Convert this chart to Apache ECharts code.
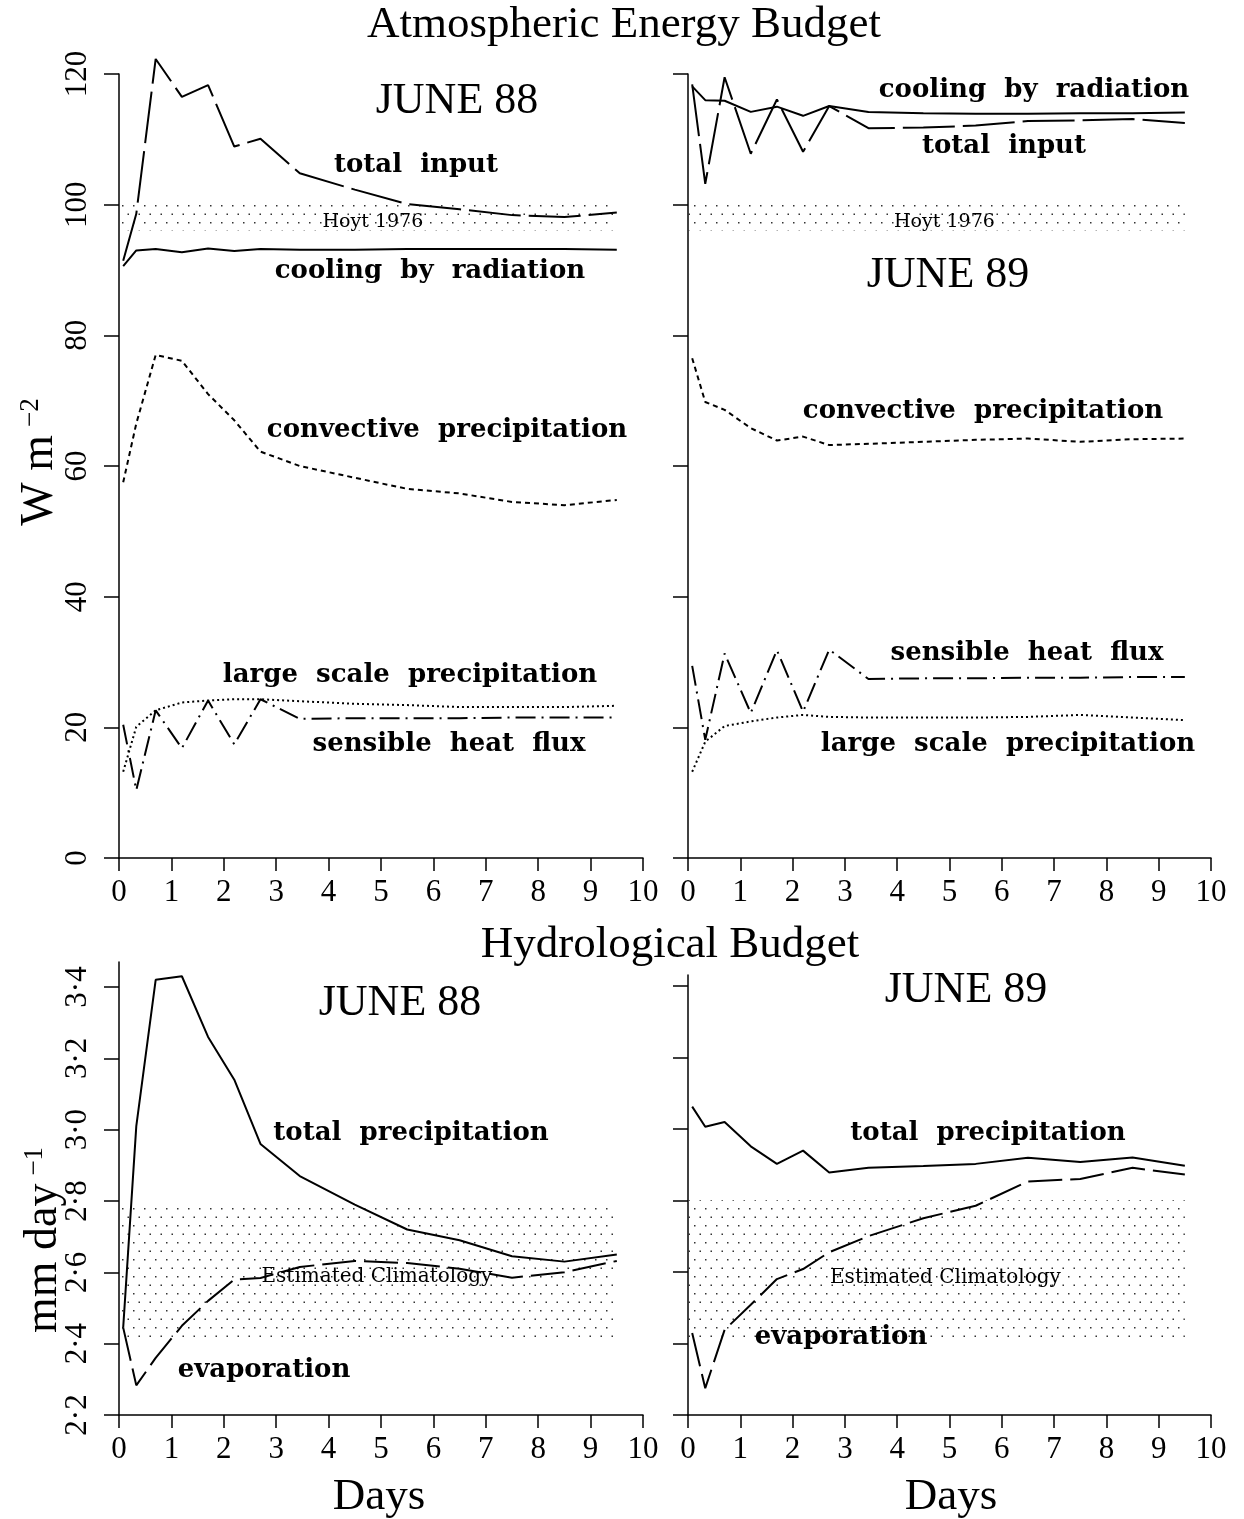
<!DOCTYPE html>
<html>
<head>
<meta charset="utf-8">
<title>Atmospheric Energy Budget / Hydrological Budget</title>
<script src="https://cdn.jsdelivr.net/npm/echarts@6/dist/echarts.min.js"></script>
<style>
  html, body { margin: 0; padding: 0; background: #fff; }
  #chart { width: 1244px; height: 1519px; }
</style>
</head>
<body>
<div id="chart"></div>
<script>
// ---- data -------------------------------------------------------------
// forecast times (days) at which the budgets were averaged
const days = [0.08, 0.33, 0.7, 1.2, 1.7, 2.2, 2.7, 3.45, 4.5, 5.5, 6.5, 7.5, 8.5, 9.5];

// tick labels
const dayTicks = [0, 1, 2, 3, 4, 5, 6, 7, 8, 9, 10];
const energyTicks = [0, 20, 40, 60, 80, 100, 120];
const hydroTicks = [2.2, 2.4, 2.6, 2.8, 3.0, 3.2, 3.4];

// reference bands: [low, high] and their extent in days
const hoytBand = [96, 100.4];
const climatologyBand = [2.4, 2.8];
const bandDays = [0, 9.5];

// atmospheric energy budget, June 1988 (W m-2)
const totalInput88  = [91.4, 98.6, 122.3, 116.5, 118.3, 108.9, 110.1, 104.8, 102.3, 100.1, 99.3, 98.4, 98.1, 98.8];
const coolingRad88  = [90.6, 93.0, 93.2, 92.7, 93.3, 92.9, 93.2, 93.1, 93.1, 93.2, 93.2, 93.2, 93.2, 93.1];
const convective88  = [57.5, 66.5, 77.0, 76.1, 71.0, 67.0, 62.2, 60.0, 58.2, 56.5, 55.8, 54.5, 54.0, 54.8];
const largeScale88  = [13.2, 20.1, 22.6, 23.8, 24.1, 24.3, 24.3, 24.0, 23.6, 23.4, 23.1, 23.1, 23.1, 23.3];
const sensible88    = [20.4, 10.4, 22.6, 16.8, 24.1, 17.4, 24.3, 21.3, 21.4, 21.4, 21.4, 21.5, 21.5, 21.5];

// atmospheric energy budget, June 1989 (W m-2)
const totalInput89  = [118.4, 103.2, 119.5, 107.8, 116.1, 108.1, 115.1, 111.7, 111.8, 112.1, 112.8, 112.9, 113.1, 112.5];
const coolingRad89  = [118.1, 116.0, 115.9, 114.2, 115.0, 113.6, 115.1, 114.2, 114.0, 113.9, 113.9, 114.0, 114.0, 114.1];
const convective89  = [76.5, 69.8, 68.6, 65.8, 63.9, 64.5, 63.2, 63.4, 63.7, 64.0, 64.2, 63.7, 64.1, 64.2];
const largeScale89  = [13.2, 17.8, 20.2, 20.9, 21.5, 21.9, 21.6, 21.5, 21.5, 21.5, 21.6, 21.9, 21.5, 21.1];
const sensible89    = [29.4, 18.1, 31.3, 22.2, 31.8, 22.4, 31.9, 27.4, 27.5, 27.5, 27.6, 27.6, 27.7, 27.7];

// hydrological budget (mm day-1)
const totalPrecip88 = [2.445, 3.01, 3.42, 3.43, 3.26, 3.14, 2.96, 2.87, 2.79, 2.72, 2.69, 2.645, 2.63, 2.65];
const evaporation88 = [2.445, 2.283, 2.36, 2.45, 2.52, 2.58, 2.584, 2.615, 2.632, 2.626, 2.61, 2.585, 2.6, 2.632];
const totalPrecip89 = [3.062, 3.006, 3.019, 2.951, 2.902, 2.939, 2.878, 2.891, 2.896, 2.902, 2.919, 2.907, 2.92, 2.897];
const evaporation89 = [2.429, 2.275, 2.438, 2.508, 2.58, 2.608, 2.655, 2.70, 2.75, 2.785, 2.853, 2.86, 2.891, 2.872];

// ---- styling ----------------------------------------------------------
const SERIF = "'Liberation Serif', 'Times New Roman', serif";
const WIDE_SERIF = "'DejaVu Serif', serif";
const INK = '#000';

// stippled fill used for the reference bands
function stipple() {
  const c = document.createElement('canvas');
  c.width = 11; c.height = 17;
  const g = c.getContext('2d');
  g.fillStyle = '#333';
  g.fillRect(1, 1, 1.5, 1.5);
  g.fillRect(6.5, 9.5, 1.5, 1.5);
  return c;
}
const bandFill = { image: stipple(), repeat: 'repeat' };

const dash = {
  solid: 'solid',
  longDash: [52, 8],
  evapDash: [34, 8],
  shortDash: [5, 4],
  dotted: [2, 3],
  dashDot: [20, 6, 2, 6]
};

const grids = [
  { left: 119, top: 74,  width: 524, height: 784 },   // energy, 1988
  { left: 688, top: 74,  width: 523, height: 784 },   // energy, 1989
  { left: 119, top: 962, width: 524, height: 453 },   // hydrology, 1988
  { left: 688, top: 975, width: 523, height: 440 }    // hydrology, 1989
];

function xAxisFor(i) {
  return {
    type: 'value', gridIndex: i, min: 0, max: 10, interval: 1,
    axisLine: { onZero: false, lineStyle: { color: INK, width: 1.5 } },
    axisTick: { length: 13, customValues: dayTicks, lineStyle: { color: INK, width: 1.5 } },
    axisLabel: {
      customValues: dayTicks, color: INK, fontFamily: SERIF, fontSize: 31, margin: 19,
      formatter: v => String(v)
    },
    splitLine: { show: false }
  };
}

function yAxisFor(i, min, max, interval, ticks, showLabels, fmt) {
  return {
    type: 'value', gridIndex: i, min, max, interval,
    axisLine: { show: true, lineStyle: { color: INK, width: 1.5 } },
    axisTick: { show: true, length: 15, customValues: ticks, lineStyle: { color: INK, width: 1.5 } },
    axisLabel: {
      show: showLabels, customValues: ticks, rotate: 90, color: INK,
      fontFamily: SERIF, fontSize: 31, margin: 26, formatter: fmt
    },
    splitLine: { show: false }
  };
}

const energyFmt = v => String(v);
const hydroFmt = v => v.toFixed(1).replace('.', '\u00b7');

function line(gridIdx, values, type, extra) {
  return Object.assign({
    type: 'line',
    xAxisIndex: gridIdx, yAxisIndex: gridIdx,
    data: days.map((d, k) => [d, values[k]]),
    symbol: 'none',
    clip: false,
    silent: true,
    lineStyle: { color: INK, width: 2, type: type, cap: 'butt' },
    z: 3
  }, extra || {});
}

function band(range, text, fontSize, offset) {
  return {
    silent: true,
    itemStyle: { color: bandFill },
    label: {
      show: true, position: 'inside', color: INK,
      fontFamily: WIDE_SERIF, fontSize: fontSize, offset: offset,
      formatter: text
    },
    data: [[{ xAxis: bandDays[0], yAxis: range[0] }, { xAxis: bandDays[1], yAxis: range[1] }]]
  };
}

// text annotations: [text, centre x, centre y, style]
const curveFont = { font: "bold 26px 'DejaVu Serif', serif" };
const juneFont = { font: "44px 'Liberation Serif', serif" };
const titleFont = { font: "45px 'Liberation Serif', serif" };
const notes = [
  ['Atmospheric Energy Budget', 624, 25, titleFont],
  ['Hydrological Budget', 670, 945, titleFont],
  ['Days', 379, 1497, titleFont],
  ['Days', 951, 1497, titleFont],

  ['JUNE 88', 457, 101, juneFont],
  ['total  input', 416, 165, curveFont],
  ['cooling  by  radiation', 430, 271, curveFont],
  ['convective  precipitation', 447, 430, curveFont],
  ['large  scale  precipitation', 410, 675, curveFont],
  ['sensible  heat  flux', 449, 744, curveFont],

  ['cooling  by  radiation', 1034, 90, curveFont],
  ['total  input', 1004, 146, curveFont],
  ['JUNE 89', 948, 275, juneFont],
  ['convective  precipitation', 983, 411, curveFont],
  ['sensible  heat  flux', 1027, 653, curveFont],
  ['large  scale  precipitation', 1008, 744, curveFont],

  ['JUNE 88', 400, 1003, juneFont],
  ['total  precipitation', 411, 1133, curveFont],
  ['evaporation', 264, 1370, curveFont],

  ['JUNE 89', 966, 990, juneFont],
  ['total  precipitation', 988, 1133, curveFont],
  ['evaporation', 841, 1337, curveFont]
];

const graphics = notes.map(([text, x, y, st]) => ({
  type: 'text', silent: true, z: 10,
  style: Object.assign({ text, x, y, fill: INK, align: 'center', verticalAlign: 'middle' }, st)
}));

// rotated axis titles with superscript exponents
const unitRich = {
  m: { fontFamily: SERIF, fontSize: 46, color: INK },
  s: { fontFamily: SERIF, fontSize: 27, color: INK, verticalAlign: 'top', padding: [0, 0, 0, 8] }
};
graphics.push({
  type: 'text', silent: true, x: 40, y: 462, rotation: Math.PI / 2,
  style: { text: '{m|W m}{s|\u22122}', rich: unitRich, align: 'center', verticalAlign: 'middle' }
});
graphics.push({
  type: 'text', silent: true, x: 44, y: 1240, rotation: Math.PI / 2,
  style: { text: '{m|mm day}{s|\u22121}', rich: unitRich, align: 'center', verticalAlign: 'middle' }
});

const option = {
  backgroundColor: '#fff',
  animation: false,
  grid: grids,
  xAxis: [xAxisFor(0), xAxisFor(1), xAxisFor(2), xAxisFor(3)],
  yAxis: [
    yAxisFor(0, 0, 120, 20, energyTicks, true, energyFmt),
    yAxisFor(1, 0, 120, 20, energyTicks, false, energyFmt),
    yAxisFor(2, 2.2, 3.47, 0.2, hydroTicks, true, hydroFmt),
    yAxisFor(3, 2.2, 3.43, 0.2, hydroTicks, false, hydroFmt)
  ],
  series: [
    // energy budget, June 1988
    line(0, totalInput88, dash.longDash, { markArea: band(hoytBand, 'Hoyt 1976', 19, [5, 6]) }),
    line(0, coolingRad88, dash.solid),
    line(0, convective88, dash.shortDash),
    line(0, largeScale88, dash.dotted),
    line(0, sensible88, dash.dashDot),
    // energy budget, June 1989
    line(1, totalInput89, dash.longDash, { markArea: band(hoytBand, 'Hoyt 1976', 19, [8, 6]) }),
    line(1, coolingRad89, dash.solid),
    line(1, convective89, dash.shortDash),
    line(1, largeScale89, dash.dotted),
    line(1, sensible89, dash.dashDot),
    // hydrological budget, June 1988
    line(2, totalPrecip88, dash.solid, { markArea: band(climatologyBand, 'Estimated Climatology', 20, [9, 4]) }),
    line(2, evaporation88, dash.evapDash),
    // hydrological budget, June 1989
    line(3, totalPrecip89, dash.solid, { markArea: band(climatologyBand, 'Estimated Climatology', 20, [9, 6]) }),
    line(3, evaporation89, dash.evapDash)
  ],
  graphic: graphics
};

const chart = echarts.init(document.getElementById('chart'), null, { renderer: 'canvas' });
chart.setOption(option);
</script>
</body>
</html>
